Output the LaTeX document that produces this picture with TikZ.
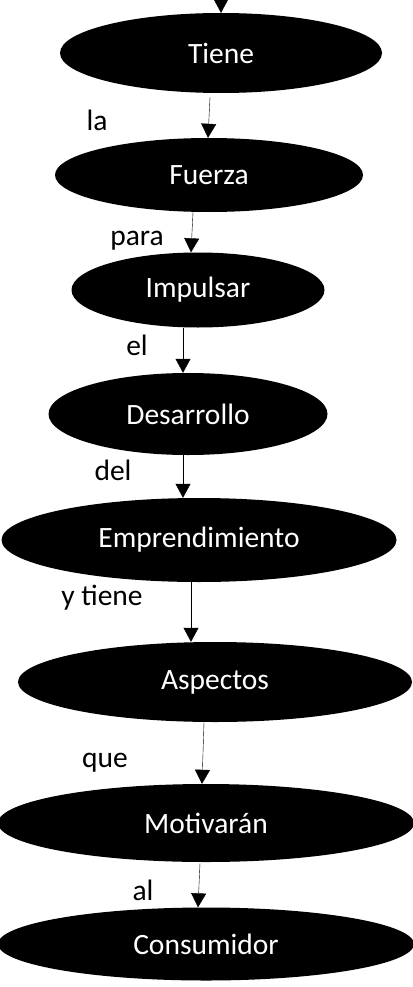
\documentclass[tikz,border=0pt]{standalone}
\usepackage{fontspec}
\setmainfont{Carlito}
\usetikzlibrary{shapes.geometric, arrows.meta, calc}
\tikzset{>={Triangle[width=15pt,length=14pt]}, line width=1pt}
\tikzset{paso/.style={ellipse, fill=black, text=white, inner sep=0pt, font=\fontsize{29.5}{35}\selectfont}}
\tikzset{enlace/.style={anchor=base, font=\fontsize{29.5}{35}\selectfont}}

\begin{document}
\begin{tikzpicture}[x=1pt, y=-1pt]
		\useasboundingbox (0,0) rectangle (412,987);
		\coordinate (arriba) at (221,0);
		\begin{scope}[every node/.append style={paso}]
			\node[minimum width=322pt, minimum height=80pt] (tiene) at (221,53) {Tiene};
			\node[minimum width=308pt, minimum height=74pt] (fuerza) at (209,175) {Fuerza};
			\node[minimum width=253pt, minimum height=75pt] (impulsar) at (198,290) {Impulsar};
			\node[minimum width=279pt, minimum height=82pt] (desarrollo) at (188,414) {Desarrollo};
			\node[minimum width=395pt, minimum height=84pt] (empr) at (199,540) {Emprendimiento};
			\node[minimum width=394pt, minimum height=80pt] (aspectos) at (215,682) {Aspectos};
			\node[minimum width=416pt, minimum height=78pt] (motivaran) at (206,823) {Motivarán};
			\node[minimum width=416pt, minimum height=73pt] (consumidor) at (206,944) {Consumidor};
		\end{scope}

		\begin{scope}[every node/.append style={enlace}]
			\node (la) at (97,131) {la};
			\node (para) at (137,245) {para};
			\node (el) at (137,355) {el};
			\node (del) at (113,480) {del};
			\node (ytiene) at (102,605) {y tiene};
			\node (que) at (105,767) {que};
			\node (al) at (143,900) {al};
		\end{scope}

		\draw[->] (arriba) -- (tiene);
		\draw[->] ($(tiene.south)+(-11,4)$) -- ($(fuerza.north)+(-1,0)$);
		\draw[->] ($(fuerza.south)+(-16,0)$) -- ($(impulsar.north)+(-7,0)$);
		\draw[->] ($(impulsar.south)+(-15,0)$) -- ($(desarrollo.north)+(-5,0)$);
		\draw[->] ($(desarrollo.south)+(-5,0)$) -- ($(empr.north)+(-16,0)$);
		\draw[->] ($(empr.south)+(-8,0)$) -- ($(aspectos.north)+(-24,0)$);
		\draw[->] ($(aspectos.south)+(-11,0)$) -- ($(motivaran.north)+(-4,0)$);
		\draw[->] ($(motivaran.south)+(-6,1)$) -- ($(consumidor.north)+(-8,0)$);
	\end{tikzpicture}
\end{document}
